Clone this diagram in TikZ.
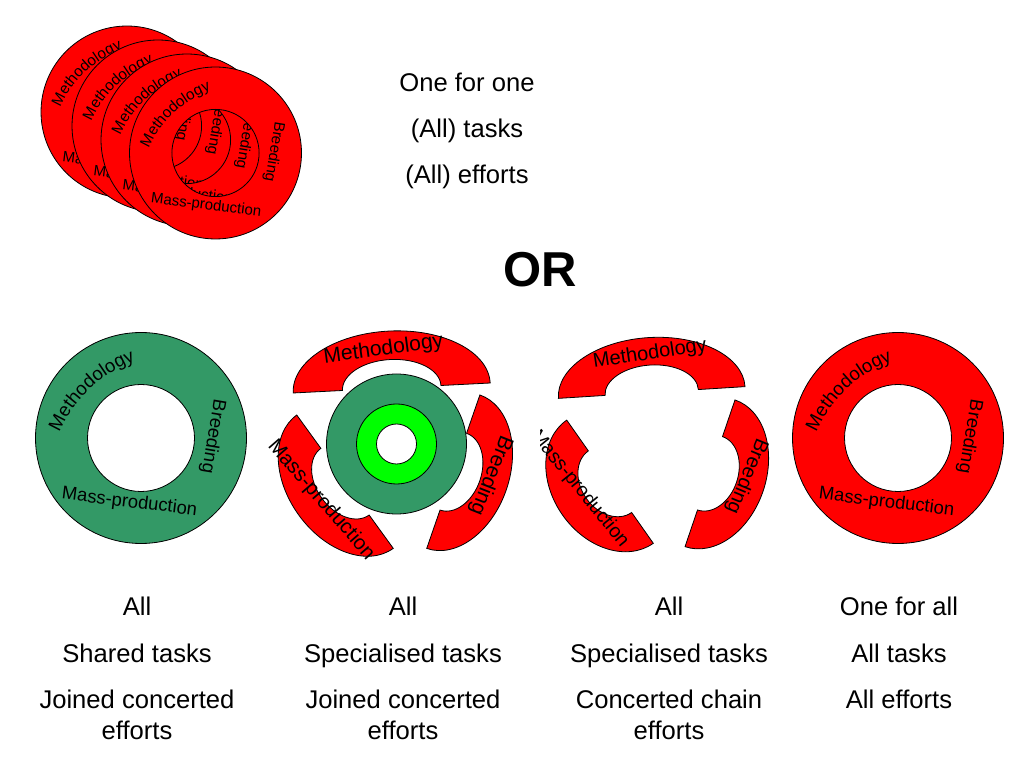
\documentclass[tikz,border=0pt]{standalone}
\usepackage{fontspec}
\setmainfont{Liberation Sans}
\usetikzlibrary{decorations.text}
\definecolor{ringgreen}{RGB}{51,153,102}
\definecolor{brightgreen}{RGB}{0,255,0}
\definecolor{segred}{RGB}{255,0,0}
\tikzset{
  ringline/.style={draw=black, line width=0.8pt},
  lbl/.style={inner sep=0pt},
  txt/.style={inner sep=0pt, anchor=base, font=\fontsize{25.6pt}{30.7pt}\selectfont},
}
% full ring: #1 name, #2 x, #3 y, #4 scale, #5 colour
\newcommand\drawring[5]{%
\begin{scope}[shift={(#2,#3)}]
  \pgfmathsetmacro\fszA{18.7*#4}%
  \pgfmathsetmacro\fszB{18.6*#4}%
  \pgfmathsetmacro\fszC{18.4*#4}%
  \filldraw[fill=#5, ringline, even odd rule] (0,0) circle[radius={105.5*#4}] (0,0) circle[radius={53.5*#4}];
  \path[decorate, shift={({40.8*#4},{-48.5*#4})},
        decoration={text along path, text align=center,
        text={|\fontsize{\fszA pt}{\fszA pt}\selectfont|Methodology}}]
    (173.2:{134*#4}) arc[start angle=173.2, end angle=93.2, radius={134*#4}];
  \node[lbl, rotate=-99.4, font=\fontsize{\fszB pt}{\fszB pt}\selectfont] (#1b) at ({71.7*#4},{1.7*#4}) {Breeding};
  \node[lbl, rotate=-7, font=\fontsize{\fszC pt}{\fszC pt}\selectfont] (#1m) at ({-11.5*#4},{-64.5*#4}) {Mass-production};
\end{scope}}
% half ring segment: #1 x, #2 y, #3 rotation, #4 rx, #5 ry
\newcommand\halfring[5]{%
  \filldraw[fill=segred, ringline, shift={(#1,#2)}, rotate=#3]
    (#4,0) arc[start angle=0, end angle=180, x radius=#4, y radius=#5]
    -- ({-0.5*#4},0) arc[start angle=180, end angle=0, x radius={0.5*#4}, y radius={0.5*#5}]
    -- cycle;}
\begin{document}
\begin{tikzpicture}[x=1pt,y=1pt]
\useasboundingbox (0,0) rectangle (1024,768);

% stacked discs (top left)
\drawring{da}{127}{656}{0.815}{segred}
\drawring{db}{158}{642}{0.815}{segred}
\drawring{dc}{187}{628}{0.815}{segred}
\drawring{dd}{215.5}{615}{0.815}{segred}

% top texts
\node[txt] (t0a) at (467,676) {One for one};
\node[txt] (t0b) at (467,630) {(All) tasks};
\node[txt] (t0c) at (467,584) {(All) efforts};
\node[inner sep=0pt, anchor=base, font=\fontsize{49pt}{49pt}\selectfont\bfseries] (or) at (540,481) {OR};

% figure 1: green ring
\drawring{g}{141}{330}{1}{ringgreen}

% figure 2: discs and segments
\filldraw[fill=ringgreen, ringline] (396.5,324) circle[radius=70];
\filldraw[fill=brightgreen, ringline] (396.5,324) circle[radius=40];
\filldraw[fill=white, ringline] (396.5,324) circle[radius=20];
\halfring{391.7}{380}{2.9}{98.6}{57}
\halfring{453.3}{296.3}{-109.1}{81.2}{56}
\halfring{345}{286.3}{125.9}{82.3}{57}
\node[lbl, rotate=7.7, font=\fontsize{21pt}{21pt}\selectfont] (s2m) at (383.5,418.3) {Methodology};
\node[lbl, rotate=-111.5, font=\fontsize{21pt}{21pt}\selectfont] (s2b) at (490.8,292.5) {Breeding};
\node[lbl, rotate=-49, font=\fontsize{20.5pt}{20.5pt}\selectfont] (s2p) at (321,268) {Mass-production};

% figure 3: segments only
\halfring{651.7}{375.5}{3.6}{93.5}{55}
\halfring{710}{294.7}{-108.8}{77.5}{56}
\halfring{610}{286.3}{125.1}{75.3}{58}
\node[lbl, rotate=8.6, font=\fontsize{20pt}{20pt}\selectfont] (s3m) at (650,413.8) {Methodology};
\node[lbl, rotate=-112.4, font=\fontsize{20pt}{20pt}\selectfont] (s3b) at (746.7,292) {Breeding};
\begin{scope}
  \clip (540,0) rectangle (1024,768);
  \node[lbl, rotate=-50.9, font=\fontsize{19.5pt}{19.5pt}\selectfont] (s3p) at (579.5,279) {Mass-production};
\end{scope}

% figure 4: red ring
\drawring{r}{898}{330}{1}{segred}

% bottom texts
\node[txt] (c1a) at (137,152) {All};
\node[txt] (c1b) at (137,106) {Shared tasks};
\node[txt] (c1c) at (137,60) {Joined concerted};
\node[txt] (c1d) at (137,29) {efforts};
\node[txt] (c2a) at (403,152) {All};
\node[txt] (c2b) at (403,106) {Specialised tasks};
\node[txt] (c2c) at (403,60) {Joined concerted};
\node[txt] (c2d) at (403,29) {efforts};
\node[txt] (c3a) at (669,152) {All};
\node[txt] (c3b) at (669,106) {Specialised tasks};
\node[txt] (c3c) at (669,60) {Concerted chain};
\node[txt] (c3d) at (669,29) {efforts};
\node[txt] (c4a) at (899,152) {One for all};
\node[txt] (c4b) at (899,106) {All tasks};
\node[txt] (c4c) at (899,60) {All efforts};
\end{tikzpicture}
\end{document}
